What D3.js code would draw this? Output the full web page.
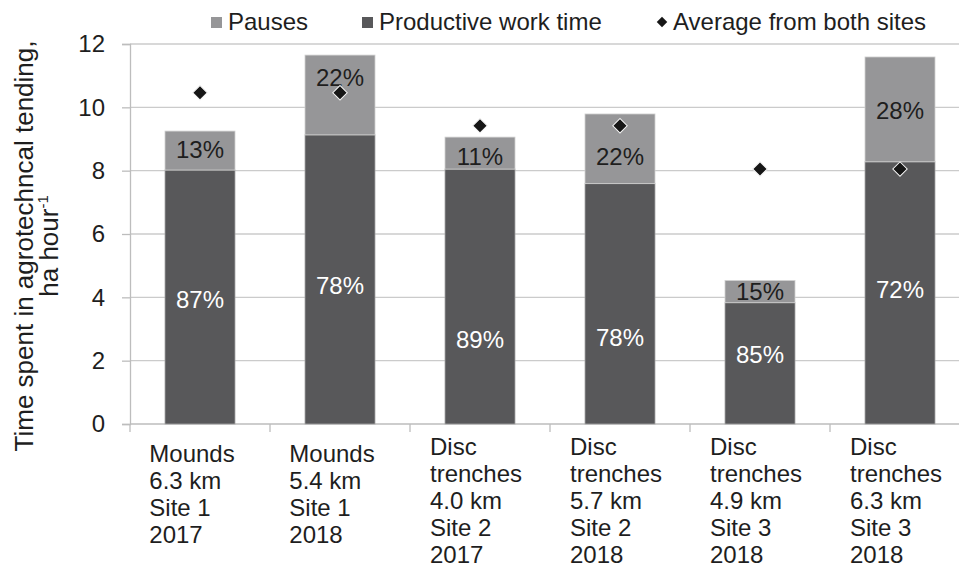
<!DOCTYPE html>
<html>
<head>
<meta charset="utf-8">
<script src="https://d3js.org/d3.v7.min.js"></script>
<style>
body { margin: 0; background: #fff; }
text { font-family: "Liberation Sans", Arial, sans-serif; }
</style>
</head>
<body>
<script>
// data
var categories = [
  ["Mounds", "6.3 km", "Site 1", "2017"],
  ["Mounds", "5.4 km", "Site 1", "2018"],
  ["Disc", "trenches", "4.0 km", "Site 2", "2017"],
  ["Disc", "trenches", "5.7 km", "Site 2", "2018"],
  ["Disc", "trenches", "4.9 km", "Site 3", "2018"],
  ["Disc", "trenches", "6.3 km", "Site 3", "2018"]
];
var productive = [8.02, 9.13, 8.05, 7.59, 3.83, 8.28];
var total      = [9.25, 11.65, 9.06, 9.79, 4.53, 11.59];
var average    = [10.46, 10.46, 9.42, 9.42, 8.05, 8.05];
var pausePct   = [13, 22, 11, 22, 15, 28];
var prodPct    = [87, 78, 89, 78, 85, 72];
// where the percent labels sit (in y units), as placed in the original
var pauseLabelAt = [8.66, 10.96, 8.45, 8.46, 4.18, 9.91];
var prodLabelAt  = [3.95, 4.39, 2.68, 2.75, 2.21, 4.26];
var yTicks = [0, 2, 4, 6, 8, 10, 12];

var W = 959, H = 574;
var mLeft = 130, mRight = 970, mTop = 44, mBottom = 424;
var fs = 24;

var svg = d3.select("body").append("svg")
  .attr("width", W)
  .attr("height", H);

var idx = d3.range(categories.length);

var x = d3.scaleBand()
  .domain(idx)
  .range([mLeft, mRight])
  .paddingInner(0.5)
  .paddingOuter(0.25);

var y = d3.scaleLinear()
  .domain([0, 12])
  .range([mBottom, mTop]);

// gridlines
svg.append("g")
  .selectAll("line")
  .data(yTicks.filter(function(d) { return d > 0; }))
  .enter().append("line")
  .attr("x1", mLeft).attr("x2", mRight)
  .attr("y1", function(d) { return y(d); })
  .attr("y2", function(d) { return y(d); })
  .attr("stroke", "#cbcbcb")
  .attr("stroke-width", 1.3);

// y axis
var yAxis = d3.axisLeft(y).tickValues(yTicks).tickSize(8).tickPadding(17);
var gy = svg.append("g")
  .attr("transform", "translate(" + mLeft + ",0)")
  .call(yAxis);
gy.select(".domain").attr("stroke", "#bdbdbd").attr("stroke-width", 1.3);
gy.selectAll(".tick line").attr("stroke", "#bdbdbd").attr("stroke-width", 1.3);
gy.selectAll(".tick text")
  .attr("font-size", fs)
  .attr("fill", "#1e1e1e")
  .style("font-family", "'Liberation Sans', Arial, sans-serif");

// x axis line with ticks at band boundaries
svg.append("line")
  .attr("x1", mLeft).attr("x2", mRight)
  .attr("y1", mBottom).attr("y2", mBottom)
  .attr("stroke", "#bdbdbd").attr("stroke-width", 1.5);
svg.append("g")
  .selectAll("line")
  .data(d3.range(categories.length + 1))
  .enter().append("line")
  .attr("x1", function(i) { return mLeft + i * x.step(); })
  .attr("x2", function(i) { return mLeft + i * x.step(); })
  .attr("y1", mBottom).attr("y2", mBottom + 8)
  .attr("stroke", "#bdbdbd").attr("stroke-width", 1.3);

// bars
var bars = svg.append("g");
bars.selectAll(".prod")
  .data(idx)
  .enter().append("rect")
  .attr("class", "prod")
  .attr("x", function(i) { return x(i); })
  .attr("width", x.bandwidth())
  .attr("y", function(i) { return y(productive[i]); })
  .attr("height", function(i) { return y(0) - y(productive[i]); })
  .attr("fill", "#58585a")
  .attr("stroke", "#a6a6a6")
  .attr("stroke-width", 0.8);

bars.selectAll(".pause")
  .data(idx)
  .enter().append("rect")
  .attr("class", "pause")
  .attr("x", function(i) { return x(i); })
  .attr("width", x.bandwidth())
  .attr("y", function(i) { return y(total[i]); })
  .attr("height", function(i) { return y(productive[i]) - y(total[i]); })
  .attr("fill", "#969698")
  .attr("stroke", "#d0d0d0")
  .attr("stroke-width", 0.8);

// percent labels
svg.append("g").selectAll("text")
  .data(idx)
  .enter().append("text")
  .attr("x", function(i) { return x(i) + x.bandwidth() / 2; })
  .attr("y", function(i) { return y(prodLabelAt[i]); })
  .attr("dy", "0.36em")
  .attr("text-anchor", "middle")
  .attr("font-size", fs)
  .attr("fill", "#ffffff")
  .text(function(i) { return prodPct[i] + "%"; });

svg.append("g").selectAll("text")
  .data(idx)
  .enter().append("text")
  .attr("x", function(i) { return x(i) + x.bandwidth() / 2; })
  .attr("y", function(i) { return y(pauseLabelAt[i]); })
  .attr("dy", "0.36em")
  .attr("text-anchor", "middle")
  .attr("font-size", fs)
  .attr("fill", "#1e1e1e")
  .text(function(i) { return pausePct[i] + "%"; });

// average diamonds
var diamond = d3.symbol().type(d3.symbolSquare).size(105);
svg.append("g").selectAll("path")
  .data(idx)
  .enter().append("path")
  .attr("d", diamond)
  .attr("transform", function(i) {
    return "translate(" + (x(i) + x.bandwidth() / 2) + "," + y(average[i]) + ") rotate(45)";
  })
  .attr("fill", "#161616")
  .attr("stroke", "#f4f4f4")
  .attr("stroke-width", 1);

// category labels, block centred under each bar, lines left aligned
var lineH = 27;
categories.forEach(function(lines, i) {
  var g = svg.append("g");
  var t = g.append("text")
    .attr("font-size", fs)
    .attr("fill", "#1e1e1e");
  var startY = 462 - (lines.length - 4) * 7;
  lines.forEach(function(s, k) {
    t.append("tspan")
      .attr("x", 0)
      .attr("y", startY + k * lineH)
      .text(s);
  });
  var w = t.node().getBBox().width;
  var shift = lines.length === 4 ? 8 : 4;
  g.attr("transform", "translate(" + (x(i) + x.bandwidth() / 2 - w / 2 - shift) + ",0)");
});

// y axis title
var title = svg.append("text")
  .attr("transform", "translate(0,246) rotate(-90)")
  .attr("text-anchor", "middle")
  .attr("font-size", 26)
  .attr("fill", "#1e1e1e");
title.append("tspan")
  .attr("x", 0).attr("y", 33)
  .text("Time spent in agrotechncal tending,");
title.append("tspan")
  .attr("x", 0).attr("y", 58)
  .text("ha hour");
title.append("tspan")
  .attr("dy", -10)
  .attr("font-size", 15)
  .text("-1");

// legend
var legend = svg.append("g");
legend.append("rect")
  .attr("x", 211).attr("y", 17).attr("width", 11).attr("height", 11)
  .attr("fill", "#969698");
legend.append("text")
  .attr("x", 228).attr("y", 30).attr("font-size", fs).attr("fill", "#1e1e1e")
  .text("Pauses");
legend.append("rect")
  .attr("x", 362).attr("y", 17).attr("width", 11).attr("height", 11)
  .attr("fill", "#58585a");
legend.append("text")
  .attr("x", 379).attr("y", 30).attr("font-size", fs).attr("fill", "#1e1e1e")
  .text("Productive work time");
legend.append("path")
  .attr("d", d3.symbol().type(d3.symbolSquare).size(55))
  .attr("transform", "translate(662,22) rotate(45)")
  .attr("fill", "#161616");
legend.append("text")
  .attr("x", 673).attr("y", 30).attr("font-size", fs).attr("fill", "#1e1e1e")
  .text("Average from both sites");
</script>
</body>
</html>
